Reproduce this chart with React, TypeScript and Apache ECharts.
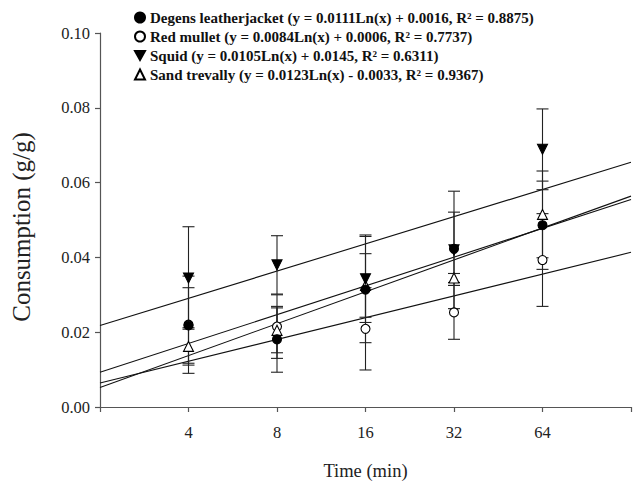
import React, { useEffect, useRef } from 'react';
import * as echarts from 'echarts';

const times = [4, 8, 16, 32, 64];
const speciesNames = ['Degens leatherjacket', 'Red mullet', 'Squid', 'Sand trevally'];
const degensMean = [0.0218, 0.0181, 0.0314, 0.0423, 0.0486];
const degensErr = [0.0101, 0.0088, 0.0142, 0.0098, 0.0118];
const mulletMean = [0.022, 0.0215, 0.0209, 0.0253, 0.0393];
const mulletErr = [0.013, 0.0085, 0.011, 0.0072, 0.0124];
const squidMean = [0.0345, 0.038, 0.0343, 0.042, 0.0689];
const squidErr = [0.0137, 0.0078, 0.0117, 0.0157, 0.0108];
const trevallyMean = [0.0162, 0.0205, 0.0325, 0.0345, 0.0515];
const trevallyErr = [0.005, 0.006, 0.0085, 0.0012, 0.0116];
const slopes = [0.0111, 0.0084, 0.0105, 0.0123];
const intercepts = [0.0016, 0.0006, 0.0145, -0.0033];
const rSquared = ['0.8875', '0.7737', '0.6311', '0.9367'];
const xRange = [2, 128];
const yRange = [0, 0.1];
const yStep = 0.02;

const means = [degensMean, mulletMean, squidMean, trevallyMean];
const errs = [degensErr, mulletErr, squidErr, trevallyErr];

const FONT = '"Liberation Serif", "Times New Roman", serif';

function legendLabel(i: number) {
  const b = intercepts[i];
  const sign = b < 0 ? '-' : '+';
  return `${speciesNames[i]} (y = ${slopes[i].toFixed(4)}Ln(x) ${sign} ${Math.abs(b).toFixed(4)}, R² = ${rSquared[i]})`;
}

export default function App() {
  const ref = useRef<HTMLDivElement>(null);
  useEffect(() => {
    if (!ref.current) return;
    const chart = echarts.init(ref.current, null, { renderer: 'svg' });

    const symbolDefs = [
      { symbol: 'circle', size: 9, rotate: 0, fill: '#000' },
      { symbol: 'circle', size: 9, rotate: 0, fill: '#fff' },
      { symbol: 'triangle', size: 10, rotate: 180, fill: '#000' },
      { symbol: 'triangle', size: 10, rotate: 0, fill: '#fff' },
    ];

    const series: any[] = [];
    speciesNames.forEach((n, i) => {
      series.push({
        name: n + ' fit',
        type: 'line',
        data: xRange.map((x) => [x, slopes[i] * Math.log(x) + intercepts[i]]),
        symbol: 'none',
        lineStyle: { color: '#111', width: 1.1 },
        z: 2,
        silent: true,
      });
    });
    speciesNames.forEach((n, i) => {
      series.push({
        name: n + ' error',
        type: 'custom',
        z: 3,
        data: times.map((t, k) => [t, means[i][k] - errs[i][k], means[i][k] + errs[i][k]]),
        renderItem: (params: any, api: any) => {
          const x = api.value(0);
          const lo = api.coord([x, api.value(1)]);
          const hi = api.coord([x, api.value(2)]);
          const w = 6;
          const style = { stroke: '#222', lineWidth: 1.1 };
          return {
            type: 'group',
            children: [
              { type: 'line', shape: { x1: lo[0], y1: lo[1], x2: hi[0], y2: hi[1] }, style },
              { type: 'line', shape: { x1: lo[0] - w, y1: lo[1], x2: lo[0] + w, y2: lo[1] }, style },
              { type: 'line', shape: { x1: hi[0] - w, y1: hi[1], x2: hi[0] + w, y2: hi[1] }, style },
            ],
          };
        },
      });
    });
    // drawing order: red mullet, sand trevally, squid, degens
    const order = [1, 3, 2, 0];
    order.forEach((i, k) => {
      const d = symbolDefs[i];
      series.push({
        name: speciesNames[i],
        type: 'scatter',
        data: times.map((t, j) => [t, means[i][j]]),
        symbol: d.symbol,
        symbolSize: d.size,
        symbolRotate: d.rotate,
        itemStyle: { color: d.fill, borderColor: '#000', borderWidth: 1.1, opacity: 1 },
        z: 5 + k,
      });
    });

    chart.setOption({
      animation: false,
      backgroundColor: '#fff',
      textStyle: { fontFamily: FONT },
      grid: { left: 100, right: 6, top: 33, bottom: 70, containLabel: false },
      legend: {
        data: speciesNames.map((n, i) =>
          i === 2 ? { name: n, icon: 'path://M0,0 L10,0 L5,9 Z' } : { name: n }
        ),
        orient: 'vertical',
        left: 129,
        top: 5,
        itemWidth: 10,
        itemHeight: 10,
        itemGap: 4,
        selectedMode: false,
        formatter: (name: string) => legendLabel(speciesNames.indexOf(name)),
        textStyle: {
          fontFamily: FONT,
          fontWeight: 'bold',
          fontSize: 15,
          color: '#111',
          lineHeight: 15,
        },
      },
      xAxis: {
        type: 'log',
        logBase: 2,
        min: xRange[0],
        max: xRange[1],
        name: 'Time (min)',
        nameLocation: 'middle',
        nameGap: 54,
        nameTextStyle: { fontFamily: FONT, fontSize: 18.5, color: '#222' },
        axisLine: { lineStyle: { color: '#555', width: 1.2 } },
        axisTick: { inside: false, length: 5, lineStyle: { color: '#555', width: 1.2 } },
        axisLabel: {
          fontFamily: FONT,
          fontSize: 16.5,
          color: '#222',
          margin: 17,
          formatter: (v: number) => {
            const r = Math.round(v);
            return r === xRange[0] || r === xRange[1] ? '' : String(r);
          },
        },
        splitLine: { show: false },
      },
      yAxis: {
        type: 'value',
        min: yRange[0],
        max: yRange[1],
        interval: yStep,
        name: 'Consumption (g/g)',
        nameLocation: 'middle',
        nameGap: 66,
        nameTextStyle: { fontFamily: FONT, fontSize: 25, color: '#222', padding: [0, 14, 0, 0] },
        axisLine: { show: true, lineStyle: { color: '#555', width: 1.2 } },
        axisTick: { show: true, inside: false, length: 5, lineStyle: { color: '#555', width: 1.2 } },
        axisLabel: {
          fontFamily: FONT,
          fontSize: 16.5,
          color: '#222',
          margin: 10,
          formatter: (v: number) => v.toFixed(2),
        },
        splitLine: { show: false },
      },
      series,
    });
    return () => chart.dispose();
  }, []);
  return <div ref={ref} style={{ width: 637, height: 485, position: 'absolute', left: 0, top: 0 }} />;
}
